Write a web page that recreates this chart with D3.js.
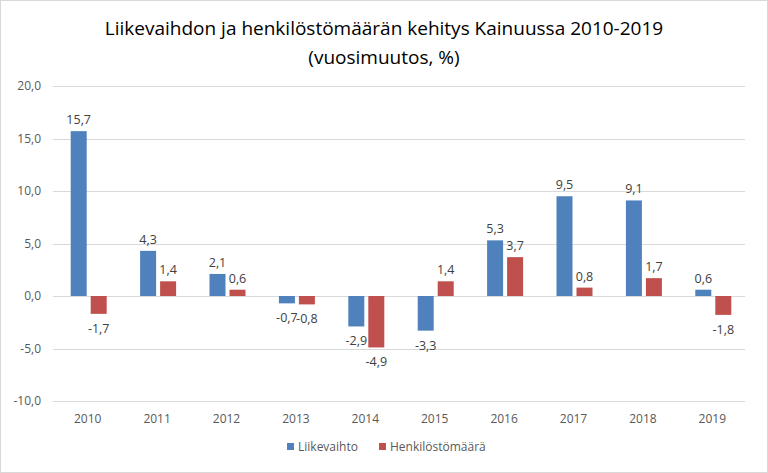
<!DOCTYPE html>
<html>
<head>
<meta charset="utf-8">
<script src="https://cdn.jsdelivr.net/npm/d3@7"></script>
<style>
body { margin: 0; background: #fff; }
svg { display: block; font-family: "Open Sans", "Liberation Sans", sans-serif; }
</style>
</head>
<body>
<svg width="768" height="473"></svg>
<script>
var years = ["2010","2011","2012","2013","2014","2015","2016","2017","2018","2019"];
var liikevaihto = [15.7, 4.3, 2.1, -0.7, -2.9, -3.3, 5.3, 9.5, 9.1, 0.6];
var henkilosto = [-1.7, 1.4, 0.6, -0.8, -4.9, 1.4, 3.7, 0.8, 1.7, -1.8];
var yTicks = [-10, -5, 0, 5, 10, 15, 20];
var seriesNames = ["Liikevaihto", "Henkilöstömäärä"];
var colors = ["#4F81BD", "#C0504D"];

var svg = d3.select("svg");
var fmt = function(v) { return v.toFixed(1).replace(".", ","); };

// outer border
svg.append("rect").attr("x", 0.5).attr("y", 0.5).attr("width", 767).attr("height", 472)
  .attr("fill", "#fff").attr("stroke", "#d9d9d9");

// title
svg.append("text").attr("x", 384).attr("y", 35).attr("text-anchor", "middle")
  .attr("font-size", 19).attr("fill", "#000")
  .text("Liikevaihdon ja henkilöstömäärän kehitys Kainuussa 2010-2019");
svg.append("text").attr("x", 384).attr("y", 64).attr("text-anchor", "middle")
  .attr("font-size", 19).attr("fill", "#000")
  .text("(vuosimuutos, %)");

var x = d3.scaleBand().domain(years).range([53, 747]);
var y = d3.scaleLinear().domain([-10, 20]).range([401, 86]);

// gridlines
svg.append("g").selectAll("line").data(yTicks).enter().append("line")
  .attr("x1", 53).attr("x2", 745)
  .attr("y1", function(d) { return Math.round(y(d)) + 0.5; })
  .attr("y2", function(d) { return Math.round(y(d)) + 0.5; })
  .attr("stroke", "#d9d9d9");

// y axis labels
var yAxis = d3.axisLeft(y).tickValues(yTicks).tickSize(0).tickPadding(12).tickFormat(fmt);
var yg = svg.append("g").attr("transform", "translate(53,0)").call(yAxis);
yg.select(".domain").remove();
yg.selectAll("text").attr("font-size", 12).attr("fill", "#595959").attr("font-family", "Open Sans, sans-serif");

// x axis labels
var xAxis = d3.axisBottom(x).tickSize(0).tickPadding(10);
var xg = svg.append("g").attr("transform", "translate(0,404)").call(xAxis);
xg.select(".domain").remove();
xg.selectAll("text").attr("font-size", 12).attr("fill", "#595959").attr("font-family", "Open Sans, sans-serif");

var barW = 16, gap = 4;
var series = [liikevaihto, henkilosto];

series.forEach(function(vals, si) {
  var g = svg.append("g");
  var off = si === 0 ? -(gap / 2) - barW : gap / 2;
  g.selectAll("rect").data(vals).enter().append("rect")
    .attr("x", function(d, i) { return x.bandwidth() / 2 + x(years[i]) + off + 1; })
    .attr("y", function(d) { return y(Math.max(0, d)); })
    .attr("width", barW)
    .attr("height", function(d) { return Math.abs(y(d) - y(0)); })
    .attr("fill", colors[si]);

  g.selectAll("text").data(vals).enter().append("text")
    .attr("x", function(d, i) { return x.bandwidth() / 2 + x(years[i]) + off + 1 + barW / 2; })
    .attr("y", function(d) { return d >= 0 ? y(d) - 7 : y(d) + 19; })
    .attr("text-anchor", "middle")
    .attr("font-size", 12.5).attr("fill", "#404040")
    .text(fmt);
});

// legend
var legend = svg.append("g").attr("transform", "translate(287,449)");
var lx = [0, 92];
seriesNames.forEach(function(n, i) {
  legend.append("rect").attr("x", lx[i]).attr("y", -6).attr("width", 7).attr("height", 7).attr("fill", colors[i]);
  legend.append("text").attr("x", lx[i] + 11).attr("y", 2).attr("font-size", 12).attr("fill", "#595959").text(n);
});
</script>
</body>
</html>
